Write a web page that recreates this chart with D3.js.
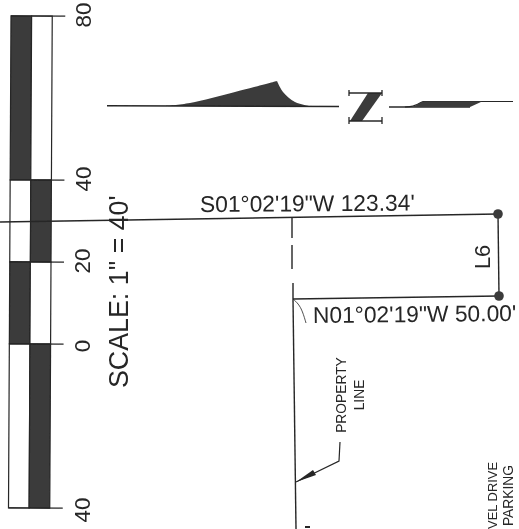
<!DOCTYPE html>
<html>
<head>
<meta charset="utf-8">
<script src="https://cdn.jsdelivr.net/npm/d3@7"></script>
<style>
  html, body { margin: 0; padding: 0; background: #fff; overflow: hidden; }
  text { font-family: "Liberation Sans", Arial, sans-serif; fill: #262626; }
</style>
</head>
<body>
<svg id="chart" width="519" height="529"></svg>
<script>
// scale bar, signed distance in feet
const barBreaks = [80, 40, 20, 0, -40];
const barLeftDark = [true, false, true, false];
const barTickLabels = ["80", "40", "20", "0", "40"];

// plan linework, in sheet pixels
const boundaryTop = [[0, 222], [498, 214]];
const boundaryEnd = [[498, 214], [499, 296]];
const boundaryLower = [[293, 299], [499, 296]];
const propertyDashes = [
  [[292, 218], [292, 238]],
  [[292, 245], [292, 269]],
  [[293, 283], [293, 299]]
];
const propertyLine = [[293, 299], [296, 529]];
const cornerArc = [[293, 299], [301, 306], [306, 323]];
const leader = [[296, 482], [339, 461], [340, 442]];
const leaderHead = [[296, 482], [313, 470], [316, 475]];
const cornerDots = [[498, 214], [499, 296]];
const stubMark = [[305, 527], [310, 527]];

// north arrow
const northLeftLine = [[107, 105.7], [339, 106.5]];
const northLeftRise = [[165, 106], [190, 103], [235, 92], [277, 81]];
const northLeftFall = [[277, 81], [283, 92], [295, 102], [312, 106.5]];
const northRightLow = [[389, 107], [470, 107]];
const northRightHigh = [[423, 101.5], [513, 101.5]];
const northRightFill = [[413, 107], [423, 101.5], [482, 101.5], [470, 107]];
const northRightLead = [[405, 107], [413, 106], [423, 101.5]];
const zDiagonal = [[368, 93], [382, 93], [362, 121], [350, 121]];
const zBars = [
  [[349, 93], [382, 93]],
  [[349, 121], [382, 121]],
  [[349, 90], [349, 96]],
  [[382, 90], [382, 96]],
  [[349, 117], [349, 124]],
  [[382, 117], [382, 124]]
];

// labels: text, x, y, size, rotation, anchor
const labels = [
  ["SCALE: 1\" = 40'", 128, 388, 26.8, -90, "start"],
  ["S01°02'19\"W 123.34'", 200, 212, 22.8, -0.4, "start"],
  ["N01°02'19\"W 50.00'", 313, 323, 22.8, -0.6, "start"],
  ["L6", 490, 269, 21.8, -90, "start"],
  ["PROPERTY", 346, 395, 13.8, -90, "middle"],
  ["LINE", 364, 395, 13.8, -90, "middle"],
  ["VEL DRIVE", 497, 462, 12.9, -90, "end"],
  ["PARKING", 513, 465, 13.8, -90, "end"]
];

const ink = "#262626";
const dark = "#3a3a3a";

const svg = d3.select("#chart");
svg.append("rect").attr("width", 519).attr("height", 529).attr("fill", "#fff");

// slight softening, the original is a scan
const defs = svg.append("defs");
defs.append("filter").attr("id", "scan")
  .append("feGaussianBlur").attr("stdDeviation", 0.4);

const root = svg.append("g").attr("filter", "url(#scan)");

// Scale bar
const yFeet = d3.scaleLinear().domain([-40, 80]).range([508, 16]);
const xCol = d3.scaleBand().domain(["left", "right"]).range([9.75, 51]);

const bar = root.append("g").attr("transform", "rotate(0.29 30 262)");
const segments = d3.pairs(barBreaks).map((p, i) => ({ top: p[0], bottom: p[1], leftDark: barLeftDark[i] }));

segments.forEach((s) => {
  ["left", "right"].forEach((col) => {
    const isDark = col === "left" ? s.leftDark : !s.leftDark;
    bar.append("rect")
      .attr("x", xCol(col))
      .attr("y", yFeet(s.top))
      .attr("width", xCol.bandwidth())
      .attr("height", yFeet(s.bottom) - yFeet(s.top))
      .attr("fill", isDark ? dark : "#fff")
      .attr("stroke", ink)
      .attr("stroke-width", 1.2);
  });
});

bar.selectAll("line.tick")
  .data(barBreaks)
  .enter()
  .append("line")
  .attr("class", "tick")
  .attr("x1", 9.75)
  .attr("x2", 64)
  .attr("y1", (d) => yFeet(d))
  .attr("y2", (d) => yFeet(d))
  .attr("stroke", ink)
  .attr("stroke-width", 1.2);

root.selectAll("text.barlabel")
  .data(barBreaks)
  .enter()
  .append("text")
  .attr("class", "barlabel")
  .attr("text-anchor", "middle")
  .attr("font-size", 22.5)
  .attr("transform", (d, i) => `translate(${i < 2 ? 91 : 90},${yFeet(d) + (i > 2 ? 2 : -1)}) rotate(-90)`)
  .text((d, i) => barTickLabels[i]);

// Plan linework
const line = d3.line();
const curve = d3.line().curve(d3.curveBasis);
const curveThrough = d3.line().curve(d3.curveCatmullRom);

const strokeLine = (pts, w, gen) => root.append("path")
  .attr("d", (gen || line)(pts))
  .attr("fill", "none")
  .attr("stroke", ink)
  .attr("stroke-width", w);

strokeLine(boundaryTop, 1.5);
strokeLine(boundaryEnd, 1.4);
strokeLine(boundaryLower, 1.5);
propertyDashes.forEach((d) => strokeLine(d, 1.4));
strokeLine(propertyLine, 1.4);
strokeLine(cornerArc, 0.8, curve);
strokeLine(leader, 1.2);
strokeLine(stubMark, 2);

root.append("path").attr("d", line(leaderHead) + "Z").attr("fill", ink);

root.selectAll("circle.corner")
  .data(cornerDots)
  .enter()
  .append("circle")
  .attr("class", "corner")
  .attr("cx", (d) => d[0])
  .attr("cy", (d) => d[1])
  .attr("r", 4.8)
  .attr("fill", dark);

// North arrow
const northBody = curveThrough(northLeftRise) + curveThrough(northLeftFall).replace(/^M[^C]*/, "") + "Z";
root.append("path").attr("d", northBody).attr("fill", dark);
strokeLine(northLeftLine, 1.4);
strokeLine(northRightLow, 1.4);
strokeLine(northRightHigh, 1.2);
strokeLine(northRightLead, 1.2, curveThrough);
root.append("path").attr("d", line(northRightFill) + "Z").attr("fill", dark);
root.append("path").attr("d", line(zDiagonal) + "Z").attr("fill", dark);
zBars.forEach((d) => strokeLine(d, 1.3));

// Text
root.selectAll("text.label")
  .data(labels)
  .enter()
  .append("text")
  .attr("class", "label")
  .attr("text-anchor", (d) => d[5])
  .attr("font-size", (d) => d[3])
  .attr("transform", (d) => `translate(${d[1]},${d[2]}) rotate(${d[4]})`)
  .text((d) => d[0]);
</script>
</body>
</html>
